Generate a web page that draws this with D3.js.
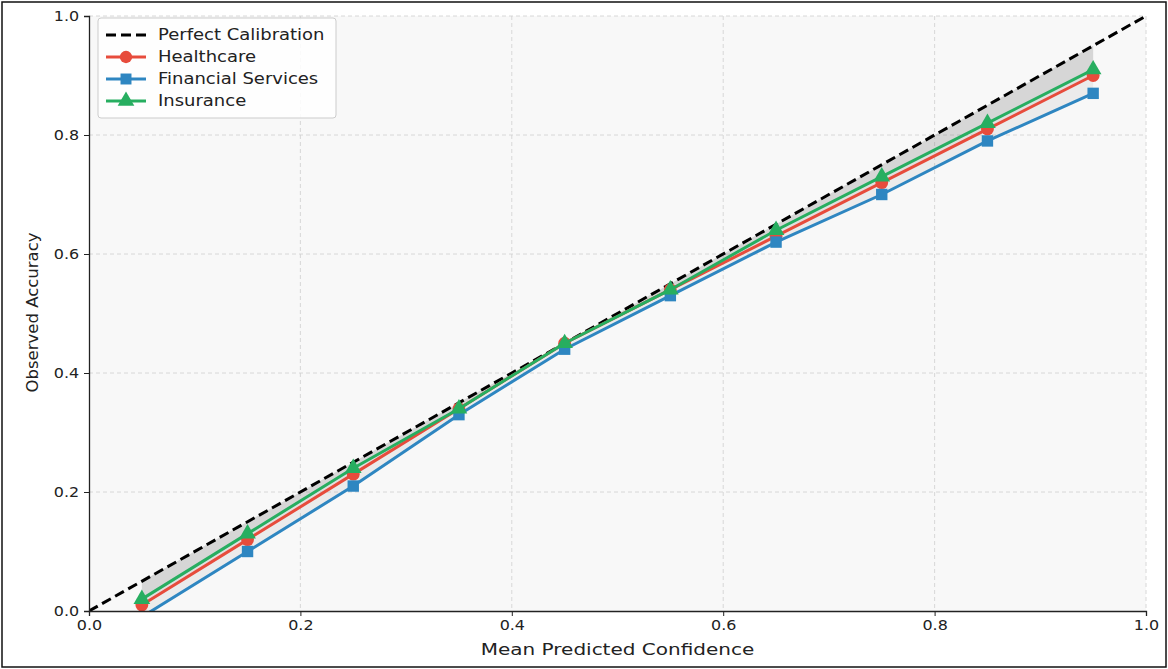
<!DOCTYPE html>
<meta charset="utf-8">
<script src="https://d3js.org/d3.v7.min.js"></script>
<style>
    body {margin:0; background:#fff; font-family:'DejaVu Sans', sans-serif;}
    svg text {fill:#222;}
</style>
<body>
<svg width="1168" height="669"></svg>
<script>
    // calibration bins and observed accuracy per industry
    const bins = [0.05, 0.15, 0.25, 0.35, 0.45, 0.55, 0.65, 0.75, 0.85, 0.95];
    const healthcare = [0.01, 0.12, 0.23, 0.34, 0.45, 0.54, 0.63, 0.72, 0.81, 0.90];
    const financial = [-0.01, 0.10, 0.21, 0.33, 0.44, 0.53, 0.62, 0.70, 0.79, 0.87];
    const insurance = [0.02, 0.13, 0.24, 0.34, 0.45, 0.54, 0.64, 0.73, 0.82, 0.91];
    const ticks = [0.0, 0.2, 0.4, 0.6, 0.8, 1.0];

    const series = [
        {name: "Healthcare", values: healthcare, color: "#e74c3c", marker: d3.symbolCircle},
        {name: "Financial Services", values: financial, color: "#2e86c1", marker: d3.symbolSquare},
        {name: "Insurance", values: insurance, color: "#27ae60", marker: d3.symbolTriangle}
    ];

    var svg = d3.select("svg");
    var margin = {left: 89, right: 22, top: 16, bottom: 58};
    var width = 1168 - margin.left - margin.right,
        height = 669 - margin.top - margin.bottom;

    // figure frame
    svg.append("rect")
        .attr("x", 2).attr("y", 2).attr("width", 1164).attr("height", 665)
        .attr("fill", "#fff").attr("stroke", "#111").attr("stroke-width", 1.5);

    var g = svg.append("g").attr("transform", "translate(" + margin.left + "," + margin.top + ")");

    var x = d3.scaleLinear().domain([0, 1]).range([0, width]);
    var y = d3.scaleLinear().domain([0, 1]).range([height, 0]);

    g.append("rect").attr("width", width).attr("height", height).attr("fill", "#f8f8f8");

    g.append("defs").append("clipPath").attr("id", "clip")
        .append("rect").attr("width", width).attr("height", height);

    // grid
    g.append("g").selectAll("line").data(ticks.slice(1)).enter().append("line")
        .attr("x1", d => x(d)).attr("x2", d => x(d)).attr("y1", 0).attr("y2", height)
        .attr("stroke", "#d4d4d4").attr("stroke-dasharray", "4,3").attr("stroke-width", 0.9);
    g.append("g").selectAll("line").data(ticks.slice(1)).enter().append("line")
        .attr("x1", 0).attr("x2", width).attr("y1", d => y(d)).attr("y2", d => y(d))
        .attr("stroke", "#d4d4d4").attr("stroke-dasharray", "4,3").attr("stroke-width", 0.9);

    var plot = g.append("g").attr("clip-path", "url(#clip)");

    // gap to perfect calibration, one translucent layer per series
    var area = d3.area()
        .x(d => x(d[0]))
        .y0(d => y(d[0]))
        .y1(d => y(d[1]));
    series.forEach(function (s) {
        plot.append("path")
            .datum(bins.map((b, i) => [b, s.values[i]]))
            .attr("d", area)
            .attr("fill", "#808080").attr("fill-opacity", 0.1);
    });

    // perfect calibration
    plot.append("line")
        .attr("x1", x(0)).attr("y1", y(0)).attr("x2", x(1)).attr("y2", y(1))
        .attr("stroke", "#000").attr("stroke-width", 3).attr("stroke-dasharray", "10,5");

    var line = d3.line().x(d => x(d[0])).y(d => y(d[1]));
    series.forEach(function (s) {
        var pts = bins.map((b, i) => [b, s.values[i]]);
        plot.append("path").datum(pts).attr("d", line)
            .attr("fill", "none").attr("stroke", s.color).attr("stroke-width", 3);
        plot.append("g").selectAll("path").data(pts).enter().append("path")
            .attr("transform", d => "translate(" + x(d[0]) + "," + y(d[1]) + ")")
            .attr("d", d3.symbol().type(s.marker).size(s.marker === d3.symbolTriangle ? 120 : 130))
            .attr("fill", s.color);
    });

    // axes
    var xAxis = g.append("g").attr("transform", "translate(0," + height + ")")
        .call(d3.axisBottom(x).tickValues(ticks).tickFormat(d3.format(".1f")).tickSize(5).tickPadding(4));
    var yAxis = g.append("g")
        .call(d3.axisLeft(y).tickValues(ticks).tickFormat(d3.format(".1f")).tickSize(5).tickPadding(4));
    [xAxis, yAxis].forEach(function (a) {
        a.select(".domain").attr("stroke", "#222").attr("stroke-width", 1.3);
        a.selectAll(".tick line").attr("stroke", "#222");
        a.selectAll("text").style("font-size", "14.5px").style("font-family", "'DejaVu Sans', sans-serif")
            .attr("fill", "#222").attr("transform", "scale(1.1,1)");
    });

    g.append("text")
        .attr("transform", "translate(" + (width / 2) + "," + (height + 44) + ") scale(1.25,1)")
        .attr("text-anchor", "middle")
        .style("font-size", "16px")
        .text("Mean Predicted Confidence");
    g.append("text")
        .attr("transform", "translate(-51," + (height / 2 - 1) + ") rotate(-90)")
        .attr("text-anchor", "middle")
        .style("font-size", "16.5px")
        .text("Observed Accuracy");

    // legend
    var legend = g.append("g").attr("transform", "translate(9,2)");
    legend.append("rect")
        .attr("width", 238).attr("height", 100).attr("rx", 3)
        .attr("fill", "#fff").attr("fill-opacity", 0.85)
        .attr("stroke", "#cccccc");
    var items = [{name: "Perfect Calibration", color: "#000", dash: true}].concat(series);
    items.forEach(function (s, i) {
        var row = legend.append("g").attr("transform", "translate(0," + (17 + i * 22) + ")");
        row.append("line").attr("x1", 8).attr("x2", 48)
            .attr("stroke", s.color).attr("stroke-width", 3)
            .attr("stroke-dasharray", s.dash ? "10,5" : null);
        if (s.marker) {
            row.append("path").attr("transform", "translate(28,0)")
                .attr("d", d3.symbol().type(s.marker).size(120)).attr("fill", s.color);
        }
        row.append("text").attr("transform", "translate(60,5) scale(1.2,1)")
            .style("font-size", "15px").text(s.name);
    });
</script>
</body>
